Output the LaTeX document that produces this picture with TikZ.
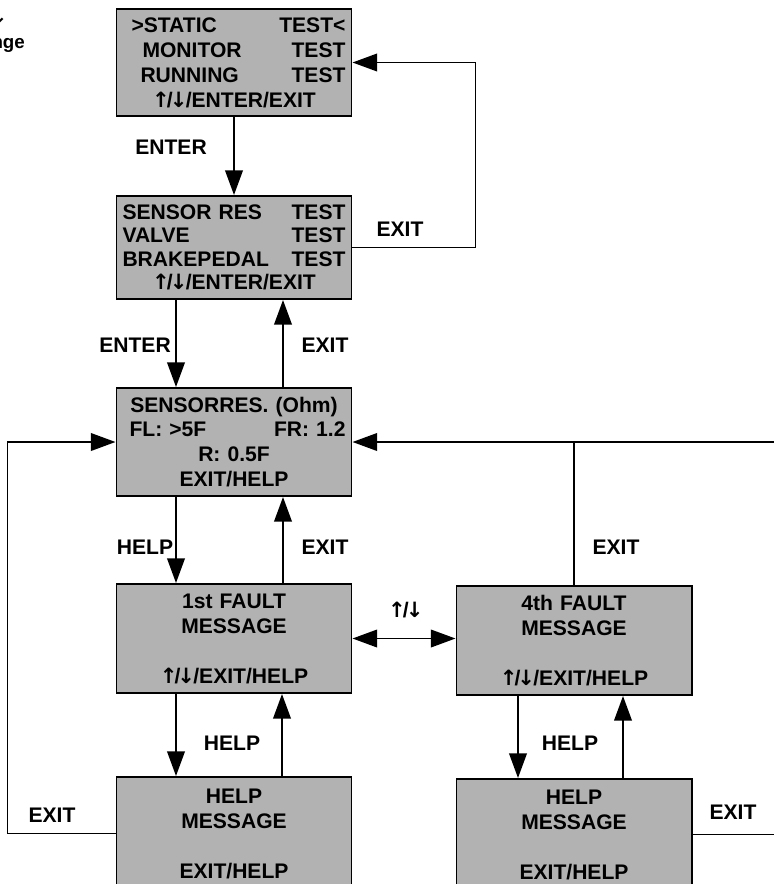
\documentclass[tikz,border=0pt]{standalone}
\usepackage{fontspec}
\setmainfont{Liberation Sans}
\newfontfamily\arrowfont{DejaVu Sans}
\newcommand{\updn}{{\arrowfont ↑}\kern-2.5pt/\kern-2.5pt{\arrowfont ↓}\kern-1.5pt}
\usetikzlibrary{arrows.meta,positioning}
\definecolor{lcdgray}{RGB}{178,178,178}
\newlength{\pxu}\setlength{\pxu}{0.03cm}
\tikzset{
screen/.style={draw,line width=1.7pt,fill=lcdgray,text width=223\pxu,inner xsep=6\pxu,inner ysep=0pt,align=center,font=\bfseries\fontsize{18}{21.3}\selectfont},
link/.style={line width=1.6pt,-{Triangle[length=21pt,width=15pt]}},
lbl/.style={font=\bfseries\fontsize{18}{20}\selectfont}
}
\begin{document}
\begin{tikzpicture}[x=0.03cm,y=-0.03cm]
\useasboundingbox (0,0) rectangle (773,884);
\node[screen,minimum height=107\pxu](statmenu) at (234,62.5){\hspace*{9\pxu}>STATIC\hfill TEST<\hspace*{12\pxu}\\
\hspace*{20\pxu}MONITOR\hfill TEST\hspace*{27\pxu}\\
\hspace*{18\pxu}RUNNING\hfill TEST\hspace*{27\pxu}\\
\updn/ENTER/EXIT};
\node[screen,minimum height=103\pxu,font=\bfseries\fontsize{18}{20}\selectfont](testmenu) at (234,247.5){SENSOR RES\hfill TEST\hspace*{13\pxu}\\
VALVE\hfill TEST\hspace*{13\pxu}\\
BRAKEPEDAL\hfill TEST\hspace*{13\pxu}\\
\updn/ENTER/EXIT};
\node[screen,minimum height=108\pxu](resmenu) at (234,442){SENSORRES. (Ohm)\\
\hspace*{7\pxu}FL: >5F\hfill FR: 1.2\hspace*{13\pxu}\\
R: 0.5F\\
EXIT/HELP};
\node[screen,minimum height=109\pxu](fault1) at (234,638.5){1st FAULT\\MESSAGE\\[25\pxu]\updn/EXIT/HELP};
\node[screen,minimum height=109\pxu](fault4) at (574,640.5){4th FAULT\\MESSAGE\\[25\pxu]\updn/EXIT/HELP};
\node[screen,minimum height=113\pxu](help1) at (234,833.5){HELP\\MESSAGE\\[25\pxu]EXIT/HELP};
\node[screen,minimum height=111\pxu](help4) at (574,834.5){HELP\\MESSAGE\\[25\pxu]EXIT/HELP};
\node[lbl,anchor=east](pgkeys) at (10,16){\updn};
\node[lbl,anchor=east,font=\bfseries\fontsize{16}{18}\selectfont](pgtext) at (29,45){nge};
\draw[link](statmenu)--(testmenu);
\draw[link](testmenu.east)--++(123,0)|-(statmenu.east);
\draw[link]([xshift=-58\pxu]testmenu.south)--([xshift=-58\pxu]resmenu.north);
\draw[link]([xshift=49\pxu]resmenu.north)--([xshift=49\pxu]testmenu.south);
\draw[link]([xshift=-58\pxu]resmenu.south)--([xshift=-58\pxu]fault1.north);
\draw[link]([xshift=49\pxu]fault1.north)--([xshift=49\pxu]resmenu.south);
\draw[link,{Triangle[length=21pt,width=15pt]}-{Triangle[length=21pt,width=15pt]}](fault1.east)--(fault1.east-|fault4.west);
\draw[line width=1.6pt](fault4.north)--(fault4.north|-resmenu.east);
\draw[link](help4.east)--++(120,0)|-(resmenu.east);
\draw[link](help1.west)--++(-108,0)|-(resmenu.west);
\draw[link]([xshift=-58\pxu]fault1.south)--([xshift=-58\pxu]help1.north);
\draw[link]([xshift=48\pxu]help1.north)--([xshift=48\pxu]fault1.south);
\draw[link]([xshift=-56\pxu]fault4.south)--([xshift=-56\pxu]help4.north);
\draw[link]([xshift=49\pxu]help4.north)--([xshift=49\pxu]fault4.south);
\node[lbl](enterA) at (171,147){ENTER};
\node[lbl](exitA) at (400,229){EXIT};
\node[lbl](enterB) at (135,345){ENTER};
\node[lbl](exitB) at (325,345){EXIT};
\node[lbl](helpC) at (145,547){HELP};
\node[lbl](exitC) at (325,547){EXIT};
\node[lbl](exitE) at (616,547){EXIT};
\node[lbl](scroll) at (405,610){\updn};
\node[lbl](helpD) at (232,743){HELP};
\node[lbl](helpE) at (570,743){HELP};
\node[lbl](exitF) at (52,815){EXIT};
\node[lbl](exitG) at (733,812){EXIT};
\end{tikzpicture}
\end{document}
